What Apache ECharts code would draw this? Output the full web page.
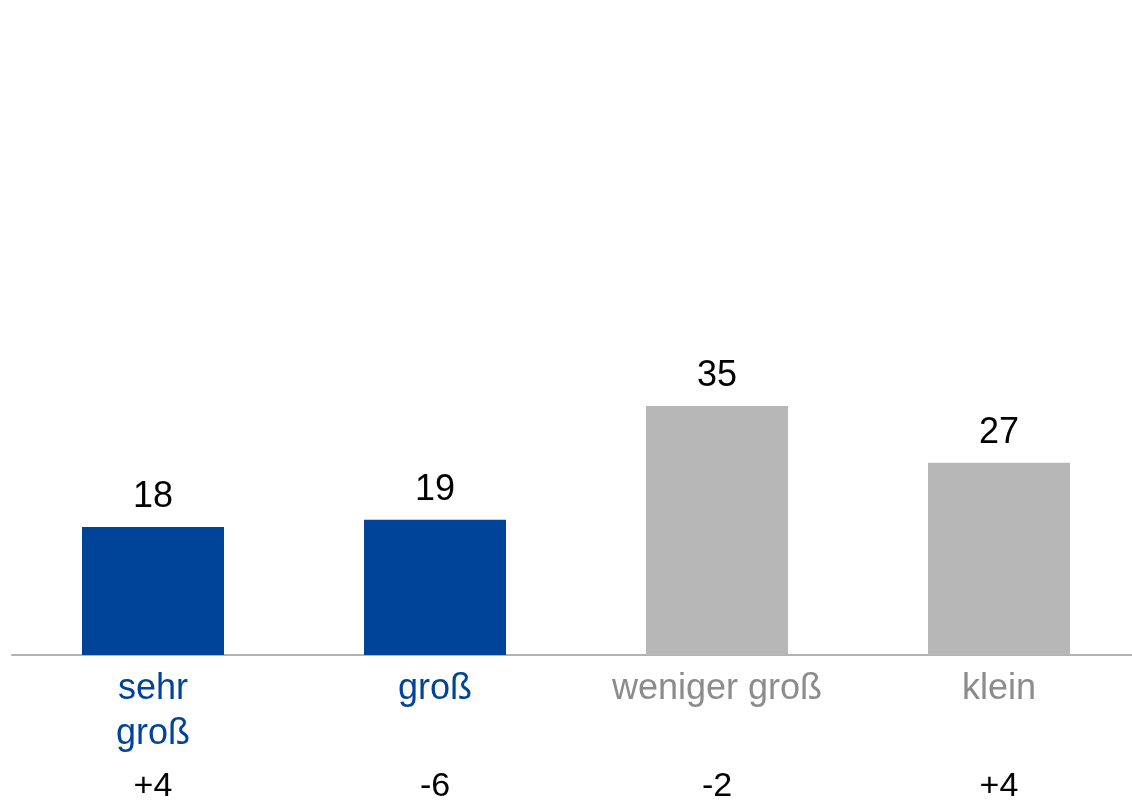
<!DOCTYPE html>
<html>
<head>
<meta charset="utf-8">
<script src="https://cdn.jsdelivr.net/npm/echarts@6/dist/echarts.min.js"></script>
<style>
  html, body { margin: 0; padding: 0; background: #fff; }
  #main { width: 1132px; height: 804px; }
</style>
</head>
<body>
<div id="main"></div>
<script>
// data
const categories = ["sehr\ngroß", "groß", "weniger groß", "klein"];
const values = [18, 19, 35, 27];
const changes = ["+4", "-6", "-2", "+4"];

// styles
const blue = "#00449a";
const grey = "#b7b7b7";
const barColors = [blue, blue, grey, grey];
const labelColors = [blue, blue, "#8c8c8c", "#8c8c8c"];
const font = "Liberation Sans, Arial, sans-serif";

let chartMain = echarts.init(document.getElementById("main"));
let option = {
  backgroundColor: "#fff",
  animation: false,
  grid: {
    left: 12,
    right: -8,
    top: 228,
    bottom: 149,
    containLabel: false,
    outerBoundsMode: "none",
  },
  xAxis: [
    {
      type: "category",
      data: categories,
      axisTick: { show: false },
      axisLine: {
        show: true,
        lineStyle: { color: "#b3b3b3", width: 2 },
      },
      axisLabel: {
        interval: 0,
        margin: 12,
        fontSize: 36,
        lineHeight: 45,
        fontFamily: font,
        color: function (value, index) {
          return labelColors[index];
        },
      },
    },
    {
      type: "category",
      position: "bottom",
      offset: 107,
      data: changes,
      axisTick: { show: false },
      axisLine: { show: false },
      axisLabel: {
        interval: 0,
        margin: 8,
        fontSize: 34,
        fontFamily: font,
        color: "#000",
      },
    },
  ],
  yAxis: {
    type: "value",
    min: 0,
    max: 60,
    show: false,
    splitLine: { show: false },
  },
  series: [
    {
      type: "bar",
      barWidth: 142,
      data: values.map(function (v, i) {
        return { value: v, itemStyle: { color: barColors[i] } };
      }),
      label: {
        show: true,
        position: "top",
        distance: 12,
        fontSize: 36,
        fontFamily: font,
        color: "#000",
      },
    },
  ],
};
chartMain.setOption(option);
</script>
</body>
</html>
